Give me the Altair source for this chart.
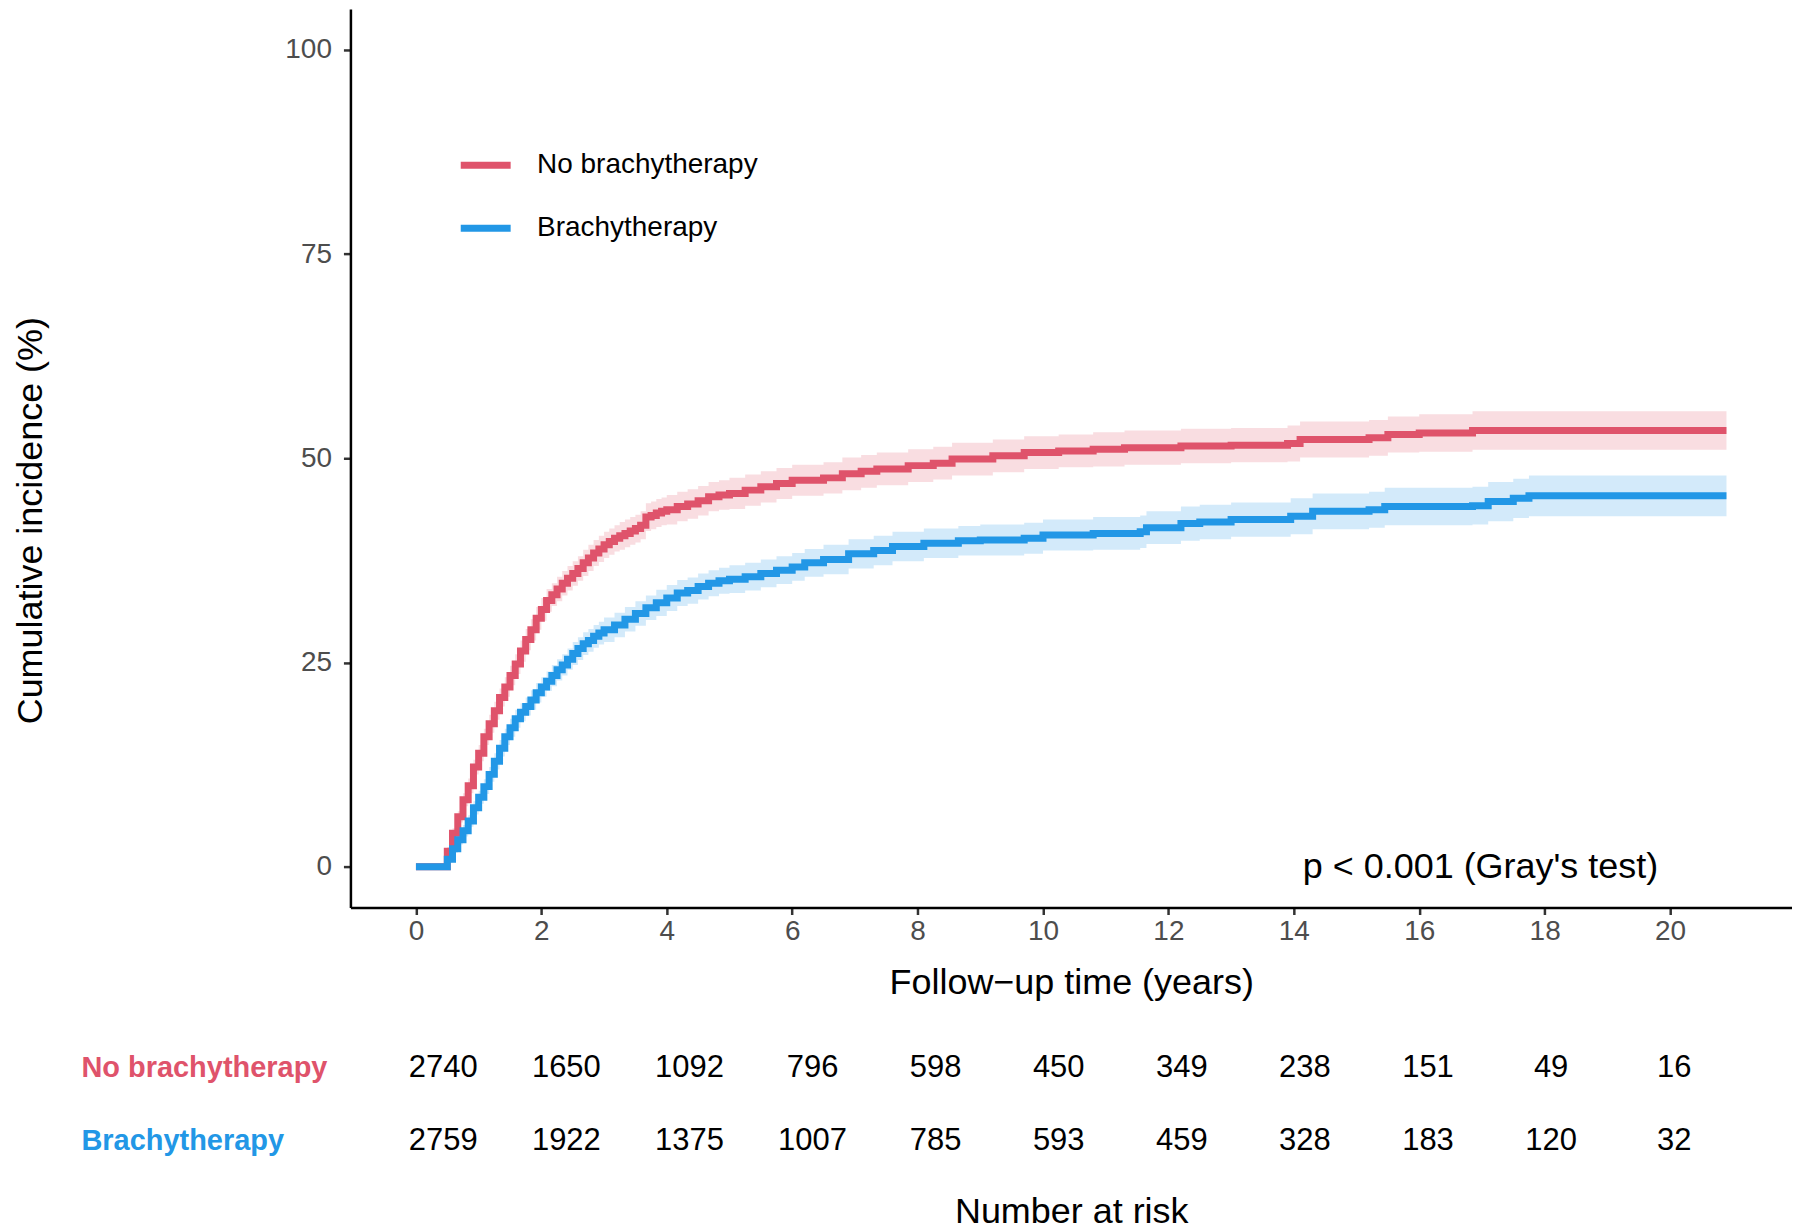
import altair as alt
import pandas as pd

FONT = "Liberation Sans"
groups = ["No brachytherapy", "Brachytherapy"]
colors = ["#DF536B", "#2297E6"]

# ---- No brachytherapy (red) cumulative incidence ----
red_t = [0, 0.5, 0.583, 0.667, 0.75, 0.833, 0.917,
         1.0, 1.083, 1.167, 1.25, 1.333, 1.417, 1.5, 1.583, 1.667, 1.75, 1.833, 1.917,
         2.0, 2.083, 2.167, 2.25, 2.333, 2.417, 2.5, 2.583, 2.667, 2.75, 2.833, 2.917,
         3.0, 3.083, 3.167, 3.25, 3.333, 3.417, 3.5, 3.583, 3.667, 3.75, 3.833, 3.917,
         4.0, 4.167, 4.333, 4.5, 4.667, 4.833,
         5.0, 5.25, 5.5, 5.75,
         6.0, 6.5, 6.8, 7.1, 7.35, 7.85,
         8.25, 8.55, 9.2, 9.7,
         10.25, 10.8, 11.3, 12.2, 13.0, 13.9, 14.1, 15.2, 15.5, 16.0, 16.85, 20.9]
red_est = [0, 1.9, 4.1, 6.1, 8.2, 9.9, 12.2,
           13.9, 15.9, 17.5, 19.1, 20.7, 22.0, 23.4, 24.8, 26.4, 27.8, 29.0, 30.4,
           31.5, 32.6, 33.3, 34.0, 34.7, 35.3, 35.9, 36.5, 37.2, 37.8, 38.4, 38.9,
           39.4, 39.8, 40.2, 40.5, 40.8, 41.1, 41.4, 41.8, 42.8, 43.0, 43.3, 43.5,
           43.7, 44.1, 44.4, 44.8, 45.3, 45.5,
           45.7, 46.1, 46.5, 46.9,
           47.3, 47.6, 48.1, 48.4, 48.7, 49.1,
           49.4, 49.9, 50.3, 50.7,
           50.9, 51.1, 51.3, 51.5, 51.6, 51.8, 52.3, 52.5, 52.9, 53.1, 53.4, 53.4]
red_hw = [0, 0.5, 0.6, 0.7, 0.8, 0.9, 0.9,
          1.0, 1.0, 1.1, 1.1, 1.1, 1.2, 1.2, 1.2, 1.3, 1.3, 1.3, 1.4,
          1.4, 1.4, 1.4, 1.5, 1.5, 1.5, 1.5, 1.5, 1.6, 1.6, 1.6, 1.6,
          1.6, 1.6, 1.6, 1.7, 1.7, 1.7, 1.7, 1.7, 1.7, 1.7, 1.7, 1.7,
          1.8, 1.8, 1.8, 1.8, 1.8, 1.8,
          1.9, 1.9, 1.9, 1.9,
          1.9, 1.9, 2.0, 2.0, 2.0, 2.0,
          2.0, 2.0, 2.0, 2.0,
          2.0, 2.1, 2.1, 2.1, 2.1, 2.2, 2.2, 2.2, 2.2, 2.3, 2.35, 2.35]

# ---- Brachytherapy (blue) cumulative incidence ----
blue_t = [0, 0.5, 0.583, 0.667, 0.75, 0.833, 0.917,
          1.0, 1.083, 1.167, 1.25, 1.333, 1.417, 1.5, 1.583, 1.667, 1.75, 1.833, 1.917,
          2.0, 2.083, 2.167, 2.25, 2.333, 2.417, 2.5, 2.583, 2.667, 2.75, 2.833, 2.917,
          3.0, 3.167, 3.333, 3.5, 3.667, 3.833,
          4.0, 4.167, 4.333, 4.5, 4.667, 4.833,
          5.0, 5.25, 5.5, 5.75,
          6.0, 6.2, 6.5, 6.9, 7.3, 7.6,
          8.1, 8.65, 9.0, 9.7,
          10.0, 10.8, 11.55, 11.65, 12.2, 12.5, 13.0, 13.95, 14.3, 15.2, 15.45, 16.85,
          17.1, 17.5, 17.75, 20.9]
blue_est = [0, 0.9, 2.2, 3.3, 4.4, 5.6, 7.2,
            8.5, 9.8, 11.3, 12.9, 14.5, 15.9, 17.0, 18.1, 18.9, 19.6, 20.4, 21.3,
            22.0, 22.7, 23.4, 24.1, 24.7, 25.4, 26.1, 26.7, 27.3, 27.7, 28.2, 28.6,
            29.0, 29.6, 30.3, 31.0, 31.7, 32.3,
            32.9, 33.5, 33.8, 34.3, 34.7, 35.0,
            35.2, 35.5, 35.9, 36.3,
            36.7, 37.2, 37.6, 38.3, 38.7, 39.2,
            39.6, 39.9, 40.0, 40.2,
            40.6, 40.8, 41.0, 41.5, 42.0, 42.2, 42.5, 42.9, 43.5, 43.7, 44.1, 44.2,
            44.7, 45.1, 45.4, 45.4]
blue_hw = [0, 0.4, 0.5, 0.6, 0.7, 0.7, 0.8,
           0.8, 0.9, 0.9, 1.0, 1.0, 1.0, 1.1, 1.1, 1.1, 1.1, 1.2, 1.2,
           1.2, 1.2, 1.3, 1.3, 1.3, 1.3, 1.4, 1.4, 1.4, 1.4, 1.4, 1.4,
           1.5, 1.5, 1.5, 1.5, 1.5, 1.6,
           1.6, 1.6, 1.6, 1.6, 1.6, 1.6,
           1.7, 1.7, 1.7, 1.7,
           1.7, 1.7, 1.8, 1.8, 1.8, 1.8,
           1.8, 1.8, 1.9, 1.9,
           1.9, 2.0, 2.0, 2.0, 2.1, 2.1, 2.1, 2.2, 2.2, 2.2, 2.3, 2.3,
           2.4, 2.4, 2.5, 2.5]

# ---- Number at risk ----
risk_times = [0, 2, 4, 6, 8, 10, 12, 14, 16, 18, 20]
risk_no_brachy = [2740, 1650, 1092, 796, 598, 450, 349, 238, 151, 49, 16]
risk_brachy = [2759, 1922, 1375, 1007, 785, 593, 459, 328, 183, 120, 32]

p_label = ["p < 0.001 (Gray's test)"]
p_x = [19.81]
p_y = [0]

rows = []
for g, ts, es, hs in ((groups[0], red_t, red_est, red_hw),
                      (groups[1], blue_t, blue_est, blue_hw)):
    for t, e, h in zip(ts, es, hs):
        rows.append({"group": g, "t": t, "est": e, "lo": e - h, "hi": e + h})
df = pd.DataFrame(rows)

risk_rows = []
for g, vals in ((groups[0], risk_no_brachy), (groups[1], risk_brachy)):
    for t, v in zip(risk_times, vals):
        risk_rows.append({"group": g, "t": t, "n": v})
risk_df = pd.DataFrame(risk_rows)

ann_df = pd.DataFrame({"t": p_x, "y": p_y, "label": p_label})

xscale = alt.Scale(domain=[-1.045, 21.945], nice=False, zero=False)
yscale = alt.Scale(domain=[-5, 105], nice=False, zero=False)
cscale = alt.Scale(domain=groups, range=colors)

xaxis = alt.Axis(values=risk_times, format="d", title="Follow\u2212up time (years)",
                 grid=False, tickSize=7, labelPadding=3, titlePadding=20)
yaxis = alt.Axis(values=[0, 25, 50, 75, 100], format="d", title="Cumulative incidence (%)",
                 grid=False, tickSize=7, labelPadding=12,
                 titleX=-301, titleY=512, titleAngle=270, titleAlign="center",
                 titleBaseline="bottom")

X = alt.X("t:Q", scale=xscale, axis=xaxis)

legend = alt.Legend(title=None, orient="none", legendX=107, legendY=128,
                    symbolType="stroke", symbolStrokeWidth=7, symbolSize=2500,
                    labelFontSize=28, labelColor="black", labelFont=FONT, labelLimit=0,
                    labelOffset=23, rowPadding=20, padding=0)


def band(g, c):
    return alt.Chart(df).transform_filter(alt.datum.group == g).mark_area(
        interpolate="step-after", color=c, opacity=0.2
    ).encode(x=X, y=alt.Y("lo:Q", scale=yscale, axis=yaxis), y2="hi:Q")


def line(g):
    return alt.Chart(df).transform_filter(alt.datum.group == g).mark_line(
        interpolate="step-after", strokeWidth=7, strokeCap="butt"
    ).encode(x=X, y=alt.Y("est:Q", scale=yscale, axis=yaxis),
             color=alt.Color("group:N", scale=cscale, legend=legend))


ptext = alt.Chart(ann_df).mark_text(
    align="right", baseline="middle", fontSize=36, color="black", font=FONT
).encode(x=X, y=alt.Y("y:Q", scale=yscale, axis=yaxis), text="label:N")

main = alt.layer(
    band(groups[0], colors[0]), band(groups[1], colors[1]),
    line(groups[0]), line(groups[1]), ptext
).properties(width=1444, height=900)

table = alt.Chart(risk_df).mark_text(
    fontSize=31, color="black", baseline="middle", font=FONT
).encode(
    x=alt.X("t:Q", scale=alt.Scale(domain=[-1.508, 21.914], nice=False, zero=False),
            axis=alt.Axis(title="Number at risk", labels=False, ticks=False, domain=False,
                          grid=False, titlePadding=18)),
    y=alt.Y("group:N", sort=groups, scale=alt.Scale(type="point", padding=0.5),
            axis=alt.Axis(title=None, labelAlign="left", labelPadding=270, ticks=False,
                          tickSize=0, domain=False, grid=False, labelFontSize=29,
                          labelFontWeight="bold", labelLimit=0,
                          labelColor={"condition": {"test": "datum.value == 'No brachytherapy'",
                                                    "value": colors[0]},
                                      "value": colors[1]})),
    text=alt.Text("n:Q", format="d"),
).properties(width=1444, height=146)

chart = alt.vconcat(main, table, spacing=31).properties(
    padding={"left": 5, "top": 0, "right": 0, "bottom": 0}
).configure(font=FONT).configure_view(strokeWidth=0).configure_axis(
    labelFont=FONT, titleFont=FONT, labelFontSize=28, labelColor="#4D4D4D",
    titleFontSize=36, titleFontWeight="normal", titleColor="black",
    domainColor="black", domainWidth=2.5, tickColor="#333333", tickWidth=2.5
)

chart.save("out.html", embed_options={"renderer": "svg", "actions": False})
